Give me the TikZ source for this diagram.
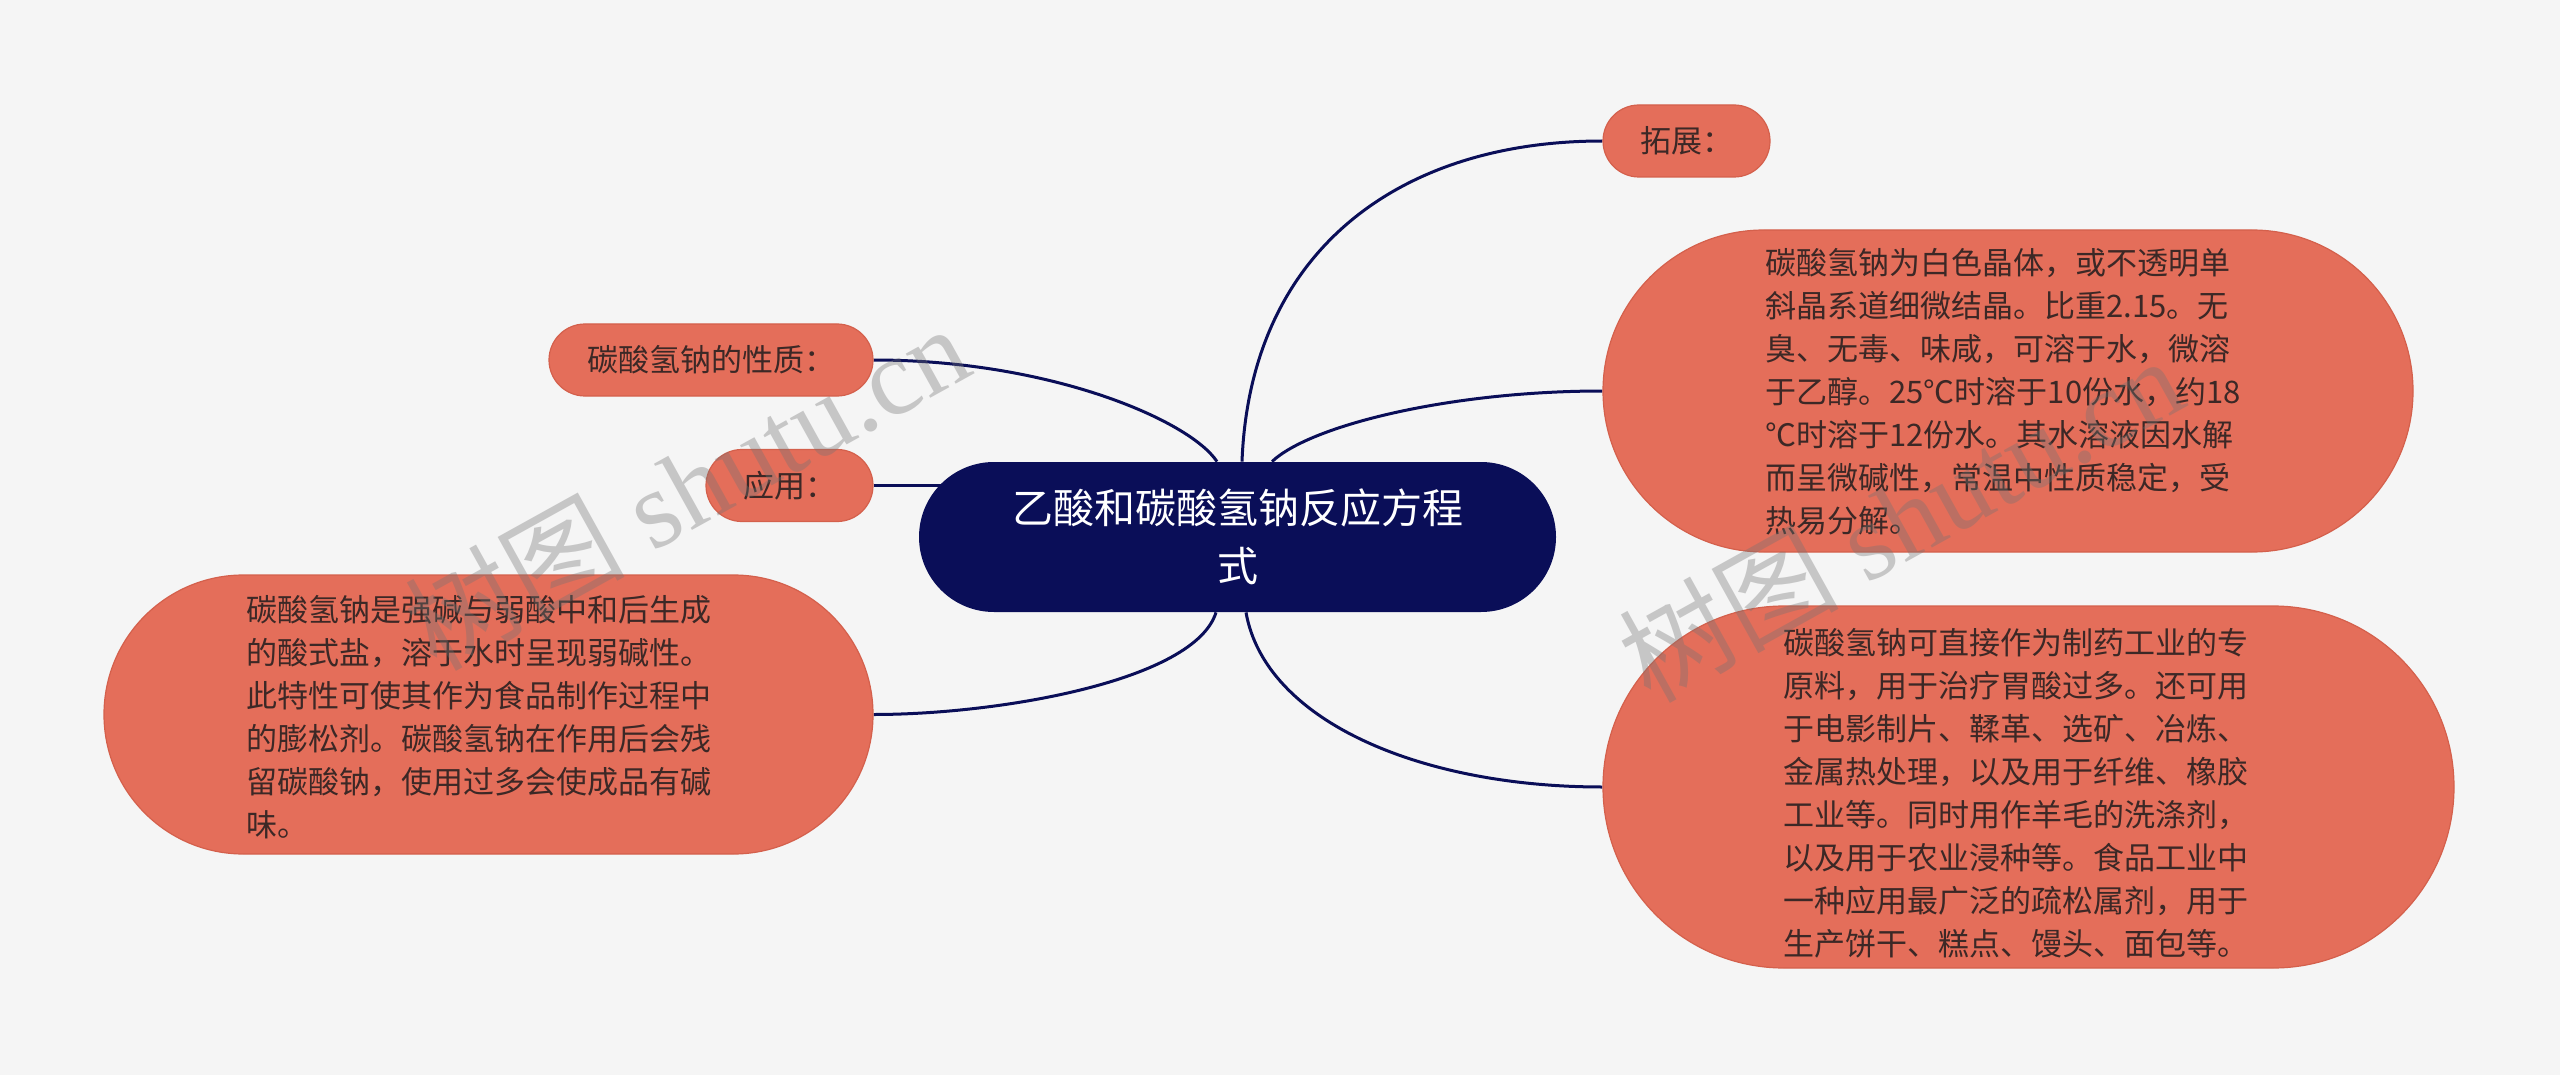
\documentclass[tikz,border=0pt]{standalone}
\usepackage{fontspec}
\setmainfont{Noto Sans CJK SC}
\newfontfamily\wmserif{Liberation Serif}
\usetikzlibrary{calc,backgrounds}
\definecolor{bgc}{HTML}{F5F5F5}
\definecolor{navy}{HTML}{0A0E58}
\definecolor{coral}{HTML}{E46E5A}
\definecolor{coralline}{HTML}{D4604C}
\definecolor{txt}{HTML}{3C2826}
\begin{document}
\begin{tikzpicture}[x=0.5pt,y=-0.5pt,
  leaf/.style={draw=coralline, line width=0.6pt, fill=coral, text=txt, inner sep=0pt,
    align=left, font=\fontsize{15.5pt}{21.5pt}\selectfont},
  smallleaf/.style={leaf, rounded corners=18pt, minimum height=36pt},
  bigtext/.style={text=txt, inner sep=0pt, align=left, font=\fontsize{15.5pt}{21.5pt}\selectfont},
  root/.style={fill=navy, text=white, inner sep=0pt, align=center,
    font=\fontsize{20.5pt}{29pt}\selectfont, rounded corners=37.5pt,
    minimum width=318.5pt, minimum height=75pt},
  link/.style={draw=navy, line width=1.5pt},
  wm/.style={text=black!55, opacity=0.36, font=\wmserif\fontsize{55pt}{55pt}\selectfont, inner sep=0pt}
]
\useasboundingbox (0,0) rectangle (2560,1075);

\node[root] (cen) at (1237.5,537) {乙酸和碳酸氢钠反应方程\\式};

\node[smallleaf, minimum width=83.5pt] (tz) at (1686.5,141) {拓展：};
\node[smallleaf, minimum width=162pt] (xz) at (711,360) {碳酸氢钠的性质：};
\node[smallleaf, minimum width=83.5pt] (yy) at (789.5,485.5) {应用：};

\node[leaf, rounded corners=80.5pt, minimum width=405pt, minimum height=161pt] (rt) at (2008,391) {};
\node[bigtext] (rttext) at ($(rt.center)+(-5,1)$)
{碳酸氢钠为白色晶体，或不透明单\\
斜晶系道细微结晶。比重2.15。无\\
臭、无毒、味咸，可溶于水，微溶\\
于乙醇。25℃时溶于10份水，约18\\
℃时溶于12份水。其水溶液因水解\\
而呈微碱性，常温中性质稳定，受\\
热易分解。};

\node[leaf, rounded corners=90.5pt, minimum width=425.5pt, minimum height=181pt] (rb) at (2028.5,787) {};
\node[bigtext] (rbtext) at ($(rb.center)+(-13,6)$)
{碳酸氢钠可直接作为制药工业的专\\
原料，用于治疗胃酸过多。还可用\\
于电影制片、鞣革、选矿、冶炼、\\
金属热处理，以及用于纤维、橡胶\\
工业等。同时用作羊毛的洗涤剂，\\
以及用于农业浸种等。食品工业中\\
一种应用最广泛的疏松属剂，用于\\
生产饼干、糕点、馒头、面包等。};

\node[leaf, rounded corners=69.75pt, minimum width=384.5pt, minimum height=139.5pt] (lf) at (488.5,714.5) {};
\node[bigtext] (lftext) at ($(lf.center)+(-10,3)$)
{碳酸氢钠是强碱与弱酸中和后生成\\
的酸式盐，溶于水时呈现弱碱性。\\
此特性可使其作为食品制作过程中\\
的膨松剂。碳酸氢钠在作用后会残\\
留碳酸钠，使用过多会使成品有碱\\
味。};

\begin{pgfonlayer}{background}
\fill[bgc] (0,0) rectangle (2560,1075);
\draw[link] ($(cen.north)+(4.5,0)$) .. controls +(8,-211) and +(-203,0) .. (tz.west);
\draw[link] ($(cen.north)+(34.5,0)$) .. controls +(38,-36) and +(-153,0) .. (rt.west);
\draw[link] ($(cen.north)+(-20.5,0)$) .. controls +(-27,-41) and +(177,0) .. (xz.east);
\draw[link] (yy.east) -- ($(yy.east -| cen.west)+(40,0)$);
\draw[link] ($(cen.south)+(-21.5,0)$) .. controls +(-21,68) and +(127,0) .. (lf.east);
\draw[link] ($(cen.south)+(8.5,0)$) .. controls +(19,108) and +(-183,0) .. (rb.west);
\end{pgfonlayer}

\node[wm, rotate=29] (wm1) at (686,486) {{\rmfamily 树图} shutu.cn};
\node[wm, rotate=29] (wm2) at (1900,518) {{\rmfamily 树图} shutu.cn};
\end{tikzpicture}
\end{document}
